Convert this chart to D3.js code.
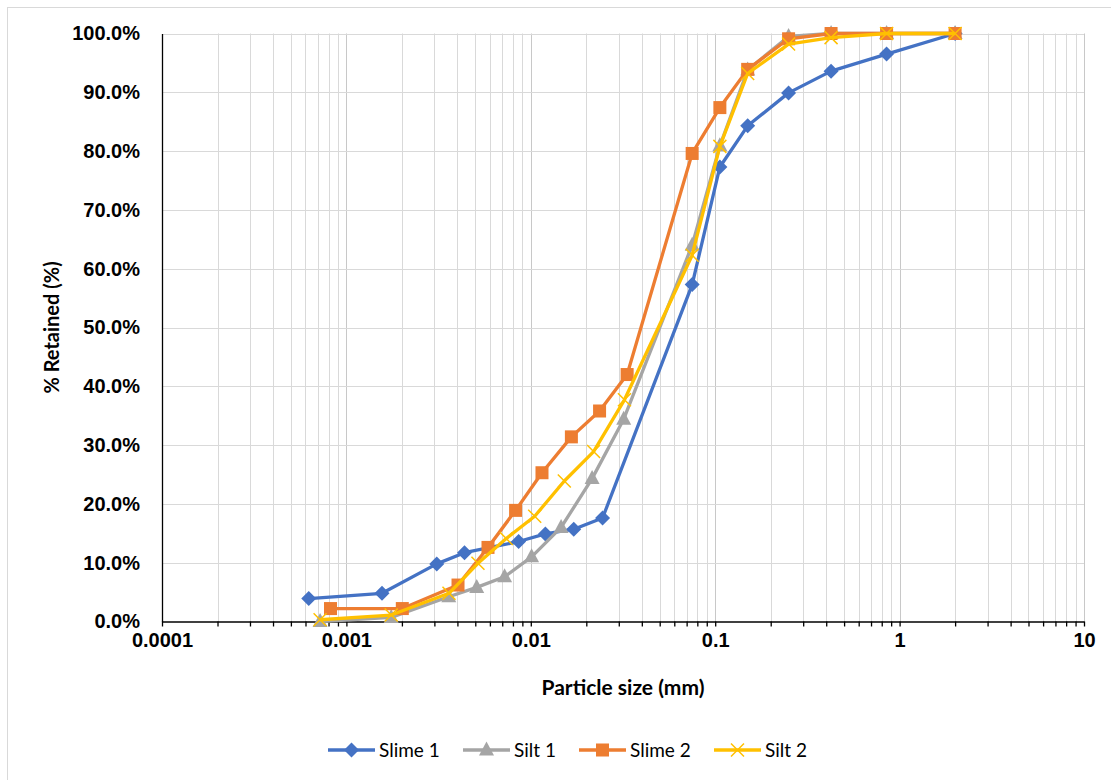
<!DOCTYPE html>
<html>
<head>
<meta charset="utf-8">
<script src="https://cdn.jsdelivr.net/npm/d3@7"></script>
<style>
  html, body { margin: 0; padding: 0; background: #fff; }
  svg { display: block; font-family: Lato, "Open Sans", sans-serif; }
</style>
</head>
<body>
<svg id="chart" width="1111" height="780"></svg>
<script>
// ---- data (particle size in mm, % retained) ----
const seriesNames = ["Slime 1", "Silt 1", "Slime 2", "Silt 2"];
const slime1Size = [0.000625, 0.00156, 0.00309, 0.00437, 0.00859, 0.0120, 0.0171, 0.0245, 0.075, 0.106, 0.15, 0.25, 0.425, 0.85, 2.0];
const slime1Pct  = [3.9, 4.8, 9.8, 11.7, 13.6, 14.9, 15.7, 17.6, 57.3, 77.3, 84.3, 89.9, 93.6, 96.5, 100];
const silt1Size  = [0.00072, 0.00175, 0.00359, 0.00509, 0.00721, 0.0101, 0.0146, 0.0215, 0.0319, 0.075, 0.106, 0.15, 0.25, 0.425, 0.85, 2.0];
const silt1Pct   = [0, 0.7, 4.2, 5.8, 7.6, 11.0, 16.0, 24.3, 34.4, 64.0, 80.9, 93.8, 99.5, 100, 100, 100];
const slime2Size = [0.00082, 0.00201, 0.00403, 0.00586, 0.00827, 0.0115, 0.0166, 0.0236, 0.0333, 0.075, 0.106, 0.15, 0.25, 0.425, 0.85, 2.0];
const slime2Pct  = [2.2, 2.2, 6.2, 12.6, 18.9, 25.3, 31.4, 35.8, 42.0, 79.6, 87.4, 93.9, 99.1, 100, 100, 100];
const silt2Size  = [0.00072, 0.00175, 0.00360, 0.00517, 0.00736, 0.0105, 0.0152, 0.0219, 0.0322, 0.075, 0.106, 0.15, 0.25, 0.425, 0.85, 2.0];
const silt2Pct   = [0.3, 1.1, 4.8, 9.9, 14.1, 17.9, 23.9, 28.9, 37.7, 62.3, 80.8, 93.2, 98.2, 99.3, 100, 100];
const xTickLabels = ["0.0001", "0.001", "0.01", "0.1", "1", "10"];
const yTicks = [0, 10, 20, 30, 40, 50, 60, 70, 80, 90, 100];

const sizes = [slime1Size, silt1Size, slime2Size, silt2Size];
const pcts = [slime1Pct, silt1Pct, slime2Pct, silt2Pct];
const colors = ["#4472C4", "#A5A5A5", "#ED7D31", "#FFC000"];
const markers = ["diamond", "triangle", "square", "cross"];

// ---- layout ----
const svg = d3.select("#chart");
const L = 162, R = 1084, T = 33.5, B = 621.5;

svg.append("rect").attr("x", 7.5).attr("y", 7.5).attr("width", 1200).attr("height", 900)
  .attr("fill", "#fff").attr("stroke", "#D9D9D9").attr("stroke-width", 1);

const x = d3.scaleLog().domain([0.0001, 10]).range([L, R]);
const y = d3.scaleLinear().domain([0, 100]).range([B, T]);

// minor + major x positions
const xAll = [];
for (let e = -4; e < 1; e++) {
  for (let m = 1; m <= 9; m++) xAll.push(+(m * Math.pow(10, e)).toPrecision(3));
}
xAll.push(10);
const isMajor = v => Math.abs(Math.log10(v) - Math.round(Math.log10(v))) < 1e-9;

const grid = svg.append("g");
grid.selectAll("line.v").data(xAll.filter(v => v > 0.0001)).join("line")
  .attr("x1", d => Math.round(x(d)) + 0.5).attr("x2", d => Math.round(x(d)) + 0.5)
  .attr("y1", T).attr("y2", B)
  .attr("stroke", d => isMajor(d) ? "#C8C8C8" : "#D9D9D9").attr("stroke-width", 1);
grid.selectAll("line.h").data(yTicks.filter(v => v > 0)).join("line")
  .attr("x1", L).attr("x2", R)
  .attr("y1", d => Math.round(y(d)) + 0.5).attr("y2", d => Math.round(y(d)) + 0.5)
  .attr("stroke", "#D9D9D9").attr("stroke-width", 1);

// y axis
const yAxis = d3.axisLeft(y).tickValues(yTicks).tickSize(0).tickPadding(22)
  .tickFormat(d => d.toFixed(1) + "%");
const gy = svg.append("g").attr("transform", `translate(${L},0)`).call(yAxis);
gy.select(".domain").attr("stroke", "#000").attr("stroke-width", 1.3);
gy.selectAll("text").attr("font-size", 20).attr("font-weight", "bold").attr("fill", "#000");

// x axis
const xAxis = d3.axisBottom(x).tickValues(xAll).tickSizeInner(5).tickSizeOuter(0).tickPadding(6)
  .tickFormat(d => isMajor(d) ? xTickLabels[Math.round(Math.log10(d)) + 4] : "");
const gx = svg.append("g").attr("transform", `translate(0,${B})`).call(xAxis);
gx.select(".domain").attr("stroke", "#000").attr("stroke-width", 1.3);
gx.selectAll(".tick line").attr("stroke", "#000").attr("stroke-width", 1.3);
gx.selectAll("text").attr("font-size", 20).attr("font-weight", "bold").attr("fill", "#000");

// axis titles
svg.append("text").attr("x", 623).attr("y", 695).attr("text-anchor", "middle")
  .attr("font-size", 21).attr("font-weight", "bold").text("Particle size (mm)");
svg.append("text").attr("transform", `translate(59,${(T + B) / 2}) rotate(-90)`)
  .attr("text-anchor", "middle").attr("font-size", 20).attr("font-weight", "bold")
  .text("% Retained (%)");

// marker drawing
function drawMarker(g, type, color) {
  if (type === "diamond") {
    g.append("path").attr("d", "M0,-7.5L7.5,0L0,7.5L-7.5,0Z").attr("fill", color);
  } else if (type === "triangle") {
    g.append("path").attr("d", "M0,-8.5L7.5,5.5L-7.5,5.5Z").attr("fill", color);
  } else if (type === "square") {
    g.append("rect").attr("x", -6.5).attr("y", -6.5).attr("width", 13).attr("height", 13).attr("fill", color);
  } else {
    g.append("path").attr("d", "M-6.5,-6.5L6.5,6.5M-6.5,6.5L6.5,-6.5").attr("stroke", color).attr("stroke-width", 1.5).attr("fill", "none");
  }
}

const line = d3.line().x(d => x(d[0])).y(d => y(d[1]));
sizes.forEach((sz, i) => {
  const pts = sz.map((s, j) => [s, pcts[i][j]]);
  const g = svg.append("g");
  g.append("path").datum(pts).attr("d", line).attr("fill", "none")
    .attr("stroke", colors[i]).attr("stroke-width", 3.3).attr("stroke-linejoin", "round");
  pts.forEach(p => {
    const m = g.append("g").attr("transform", `translate(${x(p[0])},${y(p[1])})`);
    drawMarker(m, markers[i], colors[i]);
  });
});

// legend
const legendX = [328, 463, 579, 714];
const legY = 750;
seriesNames.forEach((name, i) => {
  const g = svg.append("g").attr("transform", `translate(${legendX[i]},${legY})`);
  g.append("line").attr("x1", 0).attr("x2", 47).attr("y1", 0).attr("y2", 0)
    .attr("stroke", colors[i]).attr("stroke-width", 3.3);
  const m = g.append("g").attr("transform", "translate(23.5,0)");
  drawMarker(m, markers[i], colors[i]);
  g.append("text").attr("x", 51).attr("y", 0).attr("dy", "0.35em")
    .attr("font-size", 19).attr("fill", "#000").text(name);
});
</script>
</body>
</html>
